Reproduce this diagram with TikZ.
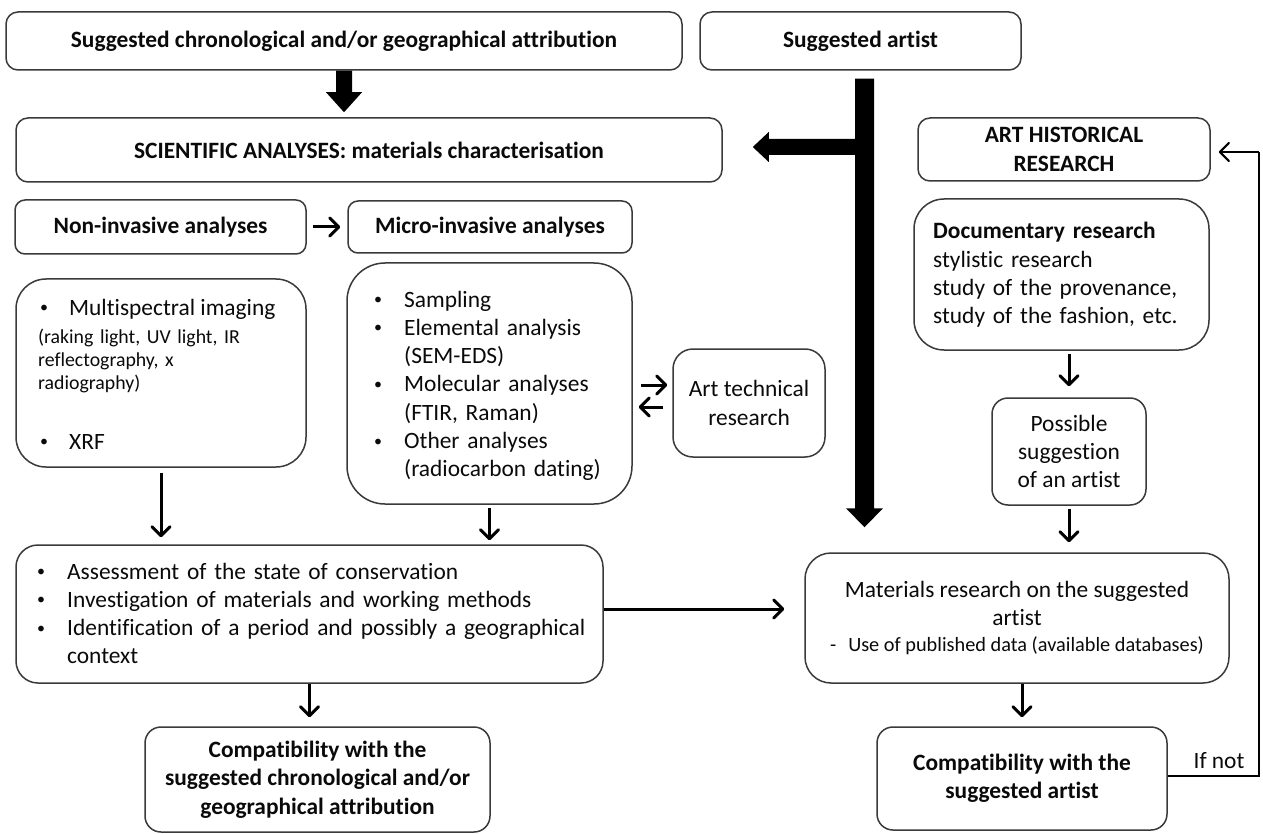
\documentclass[tikz,border=0pt]{standalone}
\usepackage{fontspec}
\setmainfont{Carlito}[Ligatures=NoCommon]
\usetikzlibrary{arrows.meta,calc}
\definecolor{edge}{HTML}{3A3A3A}
\definecolor{ink}{HTML}{0A0A0A}
\newcommand\mainsize{\fontsize{23.4}{28.3}\selectfont}
\newcommand\minorsize{\fontsize{19.8}{23}\selectfont}
% small list bullet with a fixed indent after it
\newcommand\itemdot[1]{\makebox[#1][l]{\hspace*{2pt}\raisebox{2.4pt}{\fontsize{16}{16}\selectfont •}}}
\begin{document}
\begin{tikzpicture}[x=1pt,y=-1pt,
  box/.style={draw=edge, line width=1.5pt, fill=white, rounded corners=#1,
    inner sep=0pt, align=center, text=ink, font=\mainsize},
  box/.default=12pt,
  txt/.style={inner sep=0pt, text=ink, font=\mainsize, align=left},
  conn/.style={line width=3pt, draw=black, -{Straight Barb[length=9pt,width=18pt,round]}},
  rail/.style={line width=2.2pt, draw=black}]

\fill[white] (0,0) rectangle (1263,834);
\useasboundingbox (0,0) rectangle (1263,834);

% top row
\node[box, minimum width=676pt, minimum height=58pt, font=\mainsize\bfseries] (top) at (344,41)
  {Suggested chronological and/or geographical attribution};
\node[box, minimum width=321pt, minimum height=58pt, font=\mainsize\bfseries] (artist) at (860.5,41)
  {Suggested artist};

% headings
\node[box, minimum width=706pt, minimum height=64pt, font=\mainsize\bfseries] (sci) at (369,150)
  {SCIENTIFIC ANALYSES: materials characterisation};
\node[box, minimum width=292pt, minimum height=63pt, font=\mainsize\bfseries] (art) at (1064,149.5)
  {ART HISTORICAL\\RESEARCH};
\node[box=10pt, minimum width=291pt, minimum height=54pt, font=\mainsize\bfseries] (noninv) at (160.5,227)
  {Non-invasive analyses};
\node[box=10pt, minimum width=284pt, minimum height=52pt, font=\mainsize\bfseries] (microinv) at (490,227)
  {Micro-invasive analyses};

% analysis boxes
\node[box=30pt, minimum width=290pt, minimum height=188pt] (multi) at (161,373) {};
\node[txt, anchor=base west] (multiA) at (38,315) {\itemdot{31pt}Multispectral imaging};
\node[txt, anchor=base west, font=\minorsize, text width=260pt] (multiB) at (38,343)
  {(raking light, UV light, IR\\reflectography, x\\radiography)};
\node[txt, anchor=base west] (multiC) at (38,449) {\itemdot{31pt}XRF};

\node[box=38pt, minimum width=285pt, minimum height=241pt] (micro) at (489.5,383.5) {};
\node[txt, anchor=base west, text width=255pt] (microT) at (372,307)
  {\itemdot{32pt}Sampling\\
   \itemdot{32pt}Elemental analysis\\
   \hspace*{32pt}(SEM-EDS)\\
   \itemdot{32pt}Molecular analyses\\
   \hspace*{32pt}(FTIR, Raman)\\
   \itemdot{32pt}Other analyses\\
   \hspace*{32pt}(radiocarbon dating)};

\node[box=20pt, minimum width=152pt, minimum height=108pt] (arttech) at (749,403)
  {Art technical\\research};

% art historical column
\node[box=30pt, minimum width=295pt, minimum height=151pt] (doc) at (1061.5,274.5) {};
\node[txt, anchor=base west, text width=270pt] (docT) at (933,239)
  {\textbf{Documentary research}\\
   stylistic research\\
   study of the provenance,\\
   study of the fashion, etc.};
\node[box=16pt, minimum width=154pt, minimum height=107pt] (possible) at (1069,451.5)
  {Possible\\suggestion\\of an artist};

% results
\node[box=22pt, minimum width=587pt, minimum height=138pt] (assess) at (309.5,614) {};
\node[txt, anchor=base west, text width=560pt] (assessT) at (35,579)
  {\itemdot{32pt}Assessment of the state of conservation\\
   \itemdot{32pt}Investigation of materials and working methods\\
   \itemdot{32pt}Identification of a period and possibly a geographical\\
   \hspace*{32pt}context};
\node[box=26pt, minimum width=424pt, minimum height=130pt] (materials) at (1017,618)
  {Materials research on the suggested\\artist\\[-2pt]
   {\fontsize{20.3}{23}\selectfont -\hspace{12pt}Use of published data (available databases)}};
\node[box=16pt, minimum width=345pt, minimum height=105pt, font=\mainsize\bfseries] (compatC) at (317.5,779.5)
  {Compatibility with the\\suggested chronological and/or\\geographical attribution};
\node[box=16pt, minimum width=290pt, minimum height=103pt, font=\mainsize\bfseries] (compatA) at (1022,778.5)
  {Compatibility with the\\suggested artist};
\node[txt, anchor=base] (ifnot) at (1219,768) {If not};

% bold arrows
\coordinate (topTip) at ($(top.south |- sci.north)+(0,-5)$);
\fill[black] ($(top.south)+(-8,0)$) -- ($(topTip)+(-8,-20)$) -- ($(topTip)+(-18,-20)$) -- (topTip)
  -- ($(topTip)+(18,-20)$) -- ($(topTip)+(8,-20)$) -- ($(top.south)+(8,0)$) -- cycle;

\coordinate (shaftTop) at ($(artist.south)+(4,8)$);
\coordinate (tipV) at ($(shaftTop |- materials.north)+(0,-25)$);
\coordinate (tipH) at ($(sci.east)+(30,-3)$);
\fill[black] ($(shaftTop)+(-9.5,0)$) -- ($(shaftTop)+(9.5,0)$)
  -- ($(tipV)+(9.5,-19)$) -- ($(tipV)+(18.5,-19)$) -- (tipV)
  -- ($(tipV)+(-18.5,-19)$) -- ($(tipV)+(-9.5,-19)$)
  -- ($(shaftTop |- tipH)+(-9.5,8)$) -- ($(tipH)+(16,8)$) -- ($(tipH)+(16,15)$) -- (tipH)
  -- ($(tipH)+(16,-15)$) -- ($(tipH)+(16,-8)$) -- ($(shaftTop |- tipH)+(-9.5,-8)$) -- cycle;

% thin connectors
\draw[conn, shorten <=6pt, shorten >=7pt] (noninv.east) -- (microinv.west);
\draw[conn, shorten <=8pt, shorten >=5pt] ($(micro.east |- arttech.west)+(0,-18)$) -- ($(arttech.west)+(0,-18)$);
\draw[conn, shorten <=9pt, shorten >=6pt] ($(arttech.west)+(0,4)$) -- ($(micro.east |- arttech.west)+(0,4)$);
\draw[conn, shorten <=5pt, shorten >=7pt] (multi.south) -- (multi.south |- assess.north);
\draw[conn, shorten <=3pt, shorten >=4pt] (micro.south) -- (micro.south |- assess.north);
\draw[conn, shorten >=20pt] ($(assess.east)+(0,-5)$) -- ($(assess.east -| materials.west)+(0,-5)$);
\draw[conn, shorten >=9pt] (assess.south) -- (assess.south |- compatC.north);
\draw[conn, shorten <=3pt, shorten >=11pt] (possible.north |- doc.south) -- (possible.north);
\draw[conn, shorten <=3pt, shorten >=10pt] (possible.south) -- (possible.south |- materials.north);
\draw[conn, shorten >=9pt] (compatA.north |- materials.south) -- (compatA.north);

% loop back to art historical research
\coordinate (railX) at (1259,0);
\draw[rail] ($(compatA.east)+(0,-2.5)$) -- ($(compatA.east -| railX)+(0,-2.5)$) -- ($(railX |- art.east)+(0,2.5)$);
\draw[conn, line width=2.2pt, shorten >=8pt] ($(railX |- art.east)+(0,2.5)$) -- ($(art.east)+(0,2.5)$);
\end{tikzpicture}
\end{document}
